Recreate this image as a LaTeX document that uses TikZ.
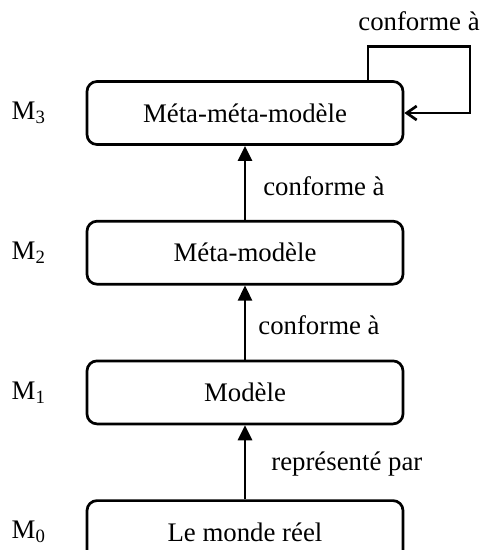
\documentclass[tikz,border=0pt]{standalone}
\usepackage{fontspec}
\setmainfont{Liberation Serif}
\usetikzlibrary{arrows.meta, positioning}

\begin{document}
\begin{tikzpicture}[
    x=1pt, y=1pt,
    node distance=74pt,
    font=\fontsize{26.8}{32}\selectfont,
    level/.style={rectangle, draw, line width=2.7pt, minimum width=316pt, minimum height=63pt, text centered, rounded corners=10pt},
    layer/.style={inner sep=0pt},
    arrow/.style={line width=2.7pt, -{Triangle[length=15pt, width=14pt]}},
    selfarrow/.style={line width=2.7pt, -{Straight Barb[length=10pt, width=14pt]}},
    rel/.style={inner sep=0pt, anchor=west}
]
\useasboundingbox (0,0) rectangle (483,-550);
% Nodes
\node[level] (mmm) at (245,-113) {Méta-méta-modèle};
\node[level, below=of mmm] (mm) {Méta-modèle};
\node[level, below=of mm] (model) {Modèle};
\node[level, below=of model] (world) {Le monde réel};
% Level names on the left
\node[layer, left=40pt of mmm] (m3) {M\textsubscript{3}};
\node[layer, left=40pt of mm] (m2) {M\textsubscript{2}};
\node[layer, left=40pt of model] (m1) {M\textsubscript{1}};
\node[layer, left=40pt of world] (m0) {M\textsubscript{0}};
% Arrows
\draw[arrow] (mm) -- node[rel, xshift=17pt, yshift=-3pt] (c3) {conforme à} (mmm);
\draw[arrow] (model) -- node[rel, xshift=12pt, yshift=-3pt] (c2) {conforme à} (mm);
\draw[arrow] (world) -- node[rel, xshift=25pt, yshift=-2pt] (rp) {représenté par} (model);
% Self loop on the top level
\draw[selfarrow] ([xshift=123pt]mmm.north) -- ++(0,34) -- node[midway, above=14pt, inner sep=0pt] (c4) {conforme à} ++(102,0) |- (mmm.east);
\end{tikzpicture}
\end{document}
